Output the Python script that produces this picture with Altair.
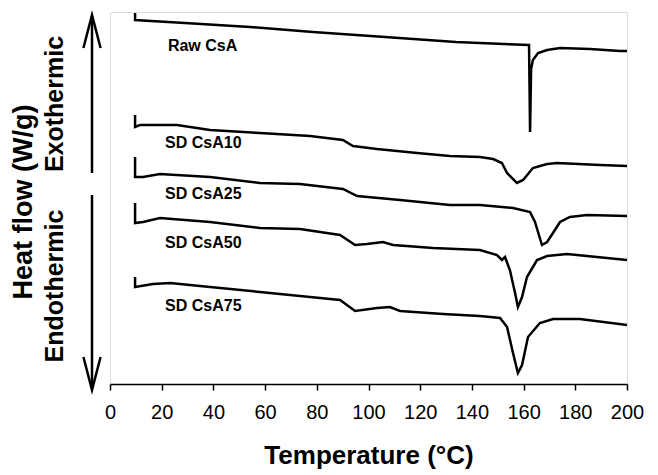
import altair as alt
import pandas as pd

# ---- data (Temperature in °C, heat flow in arbitrary offset units) ----
x_ticks = [0, 20, 40, 60, 80, 100, 120, 140, 160, 180, 200]

raw_T = [9.7, 9.7, 29.0, 54.2, 78.5, 106.4, 133.8, 162.1, 162.5, 162.9, 163.6, 165.6, 169.1, 174.1, 185.7, 197.3, 200.0]
raw_HF = [37.1, 36.4, 36.1, 35.7, 35.2, 34.7, 34.2, 33.9, 25.2, 31.5, 32.4, 33.1, 33.4, 33.6, 33.5, 33.3, 33.3]

sd10_T = [9.7, 9.7, 11.6, 25.9, 38.7, 58.0, 77.4, 90.1, 94.0, 103.3, 118.8, 131.5, 143.1, 148.2, 151.6, 153.6, 157.4, 159.8, 163.6, 169.1, 172.9, 189.6, 200.0]
sd10_HF = [26.9, 25.7, 25.9, 25.9, 25.4, 25.1, 24.8, 24.4, 23.8, 23.5, 23.1, 22.8, 22.7, 22.5, 22.1, 21.1, 20.1, 20.4, 21.6, 22.0, 22.1, 21.9, 21.8]

sd25_T = [9.7, 9.7, 12.8, 19.3, 38.7, 58.0, 73.5, 90.1, 95.6, 112.2, 131.5, 143.1, 155.9, 162.5, 164.4, 167.1, 169.1, 174.1, 177.9, 184.5, 200.0]
sd25_HF = [22.7, 20.7, 20.7, 21.0, 20.7, 20.1, 20.0, 19.5, 18.8, 18.4, 17.9, 17.9, 17.6, 17.2, 16.2, 13.9, 14.2, 16.2, 16.7, 16.9, 16.8]

sd50_T = [9.7, 9.7, 12.8, 19.3, 38.7, 58.0, 73.5, 89.0, 94.8, 99.4, 105.6, 109.5, 125.0, 143.1, 149.7, 151.6, 152.8, 154.7, 156.7, 157.8, 159.4, 161.3, 165.2, 169.1, 176.8, 184.5, 200.0]
sd50_HF = [18.1, 16.1, 16.2, 16.6, 16.2, 15.6, 15.5, 14.9, 13.9, 14.0, 14.2, 13.9, 13.6, 13.4, 12.9, 12.4, 12.7, 11.4, 9.1, 7.7, 8.7, 10.7, 12.4, 12.8, 13.0, 12.8, 12.4]

sd75_T = [9.7, 9.7, 16.6, 23.2, 38.7, 58.0, 77.4, 89.0, 94.8, 103.3, 108.3, 112.2, 128.8, 143.1, 150.9, 153.6, 155.9, 157.8, 159.4, 161.7, 166.3, 171.4, 181.8, 200.0]
sd75_HF = [10.7, 9.7, 10.0, 10.1, 9.7, 9.2, 8.7, 8.4, 7.3, 7.6, 7.7, 7.3, 7.0, 6.8, 6.6, 5.7, 3.1, 1.1, 1.9, 4.7, 6.1, 6.5, 6.5, 5.9]

series_names = ["Raw CsA", "SD CsA10", "SD CsA25", "SD CsA50", "SD CsA75"]
label_T = [22.4, 21.3, 21.3, 21.3, 21.3]
label_HF = [33.8, 24.1, 19.0, 14.1, 7.8]

# ---- build tables ----
rows = []
for name, ts, hs in zip(series_names,
                        [raw_T, sd10_T, sd25_T, sd50_T, sd75_T],
                        [raw_HF, sd10_HF, sd25_HF, sd50_HF, sd75_HF]):
    for i, (t, h) in enumerate(zip(ts, hs)):
        rows.append({"series": name, "i": i, "T": t, "HF": h})
df = pd.DataFrame(rows)
labels = pd.DataFrame({"name": series_names, "T": label_T, "HF": label_HF})

FONT = "Liberation Sans"

xscale = alt.Scale(domain=[0, 200], nice=False)
yscale = alt.Scale(domain=[0, 37.2], nice=False, zero=False)

lines = alt.Chart(df).mark_line(color="black", strokeWidth=2.5, strokeJoin="miter").encode(
    x=alt.X("T:Q", scale=xscale,
            axis=alt.Axis(values=x_ticks, tickSize=6, tickWidth=1.5, tickColor="black",
                          domainColor="black", domainWidth=1.5, grid=False,
                          labelFontSize=20, labelFont=FONT, labelColor="black", labelPadding=12,
                          labelFlush=False, labelOverlap=False, labelBound=False,
                          title="Temperature (°C)", titleFont=FONT, titleFontSize=26,
                          titleFontWeight="bold", titleColor="black",
                          titleBaseline="alphabetic", titleY=79)),
    y=alt.Y("HF:Q", scale=yscale, axis=None),
    detail="series:N",
    order="i:Q",
)

texts = alt.Chart(labels).mark_text(align="left", baseline="middle", font=FONT,
                                    fontSize=16, fontWeight="bold", color="black").encode(
    x=alt.X("T:Q", scale=xscale),
    y=alt.Y("HF:Q", scale=yscale),
    text="name:N",
)

one = alt.Data(values=[{}])
up_rule = alt.Chart(one).mark_rule(color="black", strokeWidth=2.5).encode(
    x=alt.value(-18), y=alt.value(161), y2=alt.value(4))
down_rule = alt.Chart(one).mark_rule(color="black", strokeWidth=2.5).encode(
    x=alt.value(-18), y=alt.value(183), y2=alt.value(377))
up_head = alt.Chart(one).mark_point(shape="M-0.52,1L0,-1L0.52,1", filled=False, color="black",
                                    strokeWidth=2.5, size=1089, opacity=1).encode(
    x=alt.value(-18), y=alt.value(19.5))
down_head = alt.Chart(one).mark_point(shape="M-0.52,-1L0,1L0.52,-1", filled=False, color="black",
                                      strokeWidth=2.5, size=1089, opacity=1).encode(
    x=alt.value(-18), y=alt.value(361.5))

heat = alt.Chart(one).mark_text(text="Heat flow (W/g)", angle=270, align="center",
                                baseline="alphabetic", font=FONT, fontSize=27,
                                fontWeight="bold", color="black").encode(
    x=alt.value(-78), y=alt.value(190))
exo = alt.Chart(one).mark_text(text="Exothermic", angle=270, align="center",
                               baseline="alphabetic", font=FONT, fontSize=25,
                               fontWeight="bold", color="black").encode(
    x=alt.value(-47), y=alt.value(92))
endo = alt.Chart(one).mark_text(text="Endothermic", angle=270, align="center",
                                baseline="alphabetic", font=FONT, fontSize=25,
                                fontWeight="bold", color="black").encode(
    x=alt.value(-47), y=alt.value(274))

chart = alt.layer(lines, texts, up_rule, down_rule, up_head, down_head, heat, exo, endo).properties(
    width=517, height=372,
    autosize=alt.AutoSizeParams(type="none"),
    padding={"left": 102, "top": 4, "right": 20, "bottom": 88},
).configure_view(stroke="#333", strokeWidth=1.5).configure(background="white")

chart.save("out.html", embed_options={"renderer": "svg", "actions": False})
